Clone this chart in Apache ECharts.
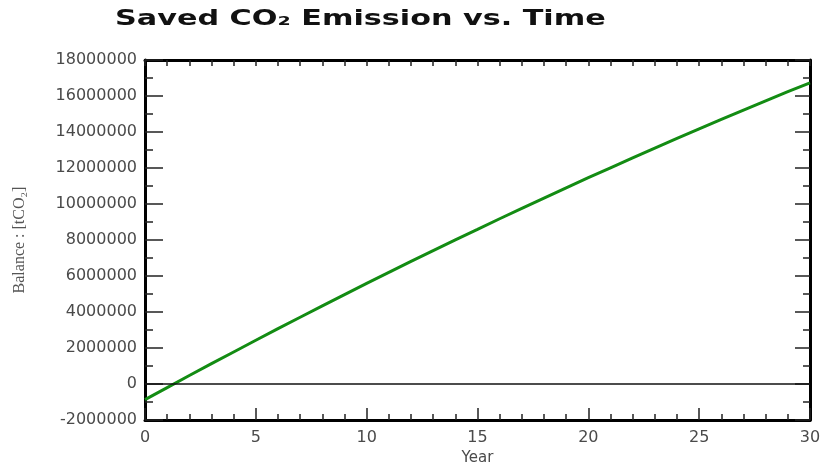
<!DOCTYPE html>
<html>
<head>
<meta charset="utf-8">
<script src="https://cdn.jsdelivr.net/npm/echarts@6/dist/echarts.min.js"></script>
<style>html,body{margin:0;padding:0;background:#fff;}#c{width:831px;height:462px;}</style>
</head>
<body>
<div id="c"></div>
<script>
const titleText = 'Saved CO\u2082 Emission vs. Time';
const xAxisName = 'Year';
const yAxisName = 'Balance : [tCO\u2082]';
const years = [0,1,2,3,4,5,6,7,8,9,10,11,12,13,14,15,16,17,18,19,20,21,22,23,24,25,26,27,28,29,30];
const balance = [-870000,-200000,470000,1130000,1780000,2430000,3080000,3710000,4340000,4970000,5590000,6200000,6810000,7410000,8010000,8590000,9180000,9760000,10330000,10900000,11460000,12010000,12560000,13110000,13640000,14170000,14700000,15220000,15730000,16240000,16730000];
const xTicks = [0,5,10,15,20,25,30];
const yTicks = [-2000000,0,2000000,4000000,6000000,8000000,10000000,12000000,14000000,16000000,18000000];

const chart = echarts.init(document.getElementById('c'), null, {renderer:'canvas'});
const axisLineStyle = {color:'#000', width:3};
const tickStyle = {color:'#222', width:1.5};
const labelFont = {color:'#4a4a4a', fontFamily:'DejaVu Sans', fontSize:16};
chart.setOption({
  animation:false,
  backgroundColor:'#fff',
  graphic:[{
    type:'text', x:115, y:9, scaleX:1.44, scaleY:1,
    style:{text:titleText, fontFamily:'DejaVu Sans', fontWeight:'bold', fontSize:21, fill:'#111'}
  }],
  grid:{left:145, right:21, top:60, bottom:42, containLabel:false, outerBoundsMode:'none'},
  xAxis:[{
    type:'value', position:'bottom', min:xTicks[0], max:xTicks[xTicks.length-1], interval:5,
    name:xAxisName, nameLocation:'middle', nameGap:26,
    nameTextStyle:{color:'#4a4a4a', fontFamily:'DejaVu Sans', fontSize:15},
    axisLine:{show:true, onZero:false, lineStyle:axisLineStyle},
    axisTick:{show:true, inside:true, length:12, lineStyle:tickStyle},
    minorTick:{show:true, splitNumber:5, length:6, lineStyle:tickStyle},
    axisLabel:Object.assign({margin:10}, labelFont),
    splitLine:{show:false}
  },{
    type:'value', position:'top', min:xTicks[0], max:xTicks[xTicks.length-1], interval:5,
    axisLine:{show:true, onZero:false, lineStyle:axisLineStyle},
    axisTick:{show:true, inside:true, length:6, lineStyle:tickStyle},
    minorTick:{show:true, splitNumber:5, length:6, lineStyle:tickStyle},
    axisLabel:{show:false}, splitLine:{show:false}
  }],
  yAxis:[{
    type:'value', position:'left', min:yTicks[0], max:yTicks[yTicks.length-1], interval:2000000,
    name:yAxisName, nameLocation:'middle', nameGap:117,
    nameTextStyle:{color:'#555', fontFamily:'Liberation Serif', fontSize:16},
    axisLine:{show:true, onZero:false, lineStyle:axisLineStyle},
    axisTick:{show:true, inside:true, length:18, lineStyle:tickStyle},
    minorTick:{show:true, splitNumber:2, length:8, lineStyle:tickStyle},
    axisLabel:Object.assign({margin:8, formatter:v=>String(v)}, labelFont),
    splitLine:{show:false}
  },{
    type:'value', position:'right', min:yTicks[0], max:yTicks[yTicks.length-1], interval:2000000,
    axisLine:{show:true, onZero:false, lineStyle:axisLineStyle},
    axisTick:{show:true, inside:true, length:15, lineStyle:tickStyle},
    minorTick:{show:true, splitNumber:2, length:7, lineStyle:tickStyle},
    axisLabel:{show:false}, splitLine:{show:false}
  }],
  series:[{
    type:'line', xAxisIndex:0, yAxisIndex:0,
    data:years.map((y,i)=>[y, balance[i]]),
    symbol:'none', smooth:false,
    lineStyle:{color:'#138c13', width:3},
    markLine:{
      silent:true, symbol:['none','none'], label:{show:false},
      lineStyle:{color:'#111', width:1.5, type:'solid'},
      data:[{yAxis:0}]
    },
    z:3
  }]
});
</script>
</body>
</html>
